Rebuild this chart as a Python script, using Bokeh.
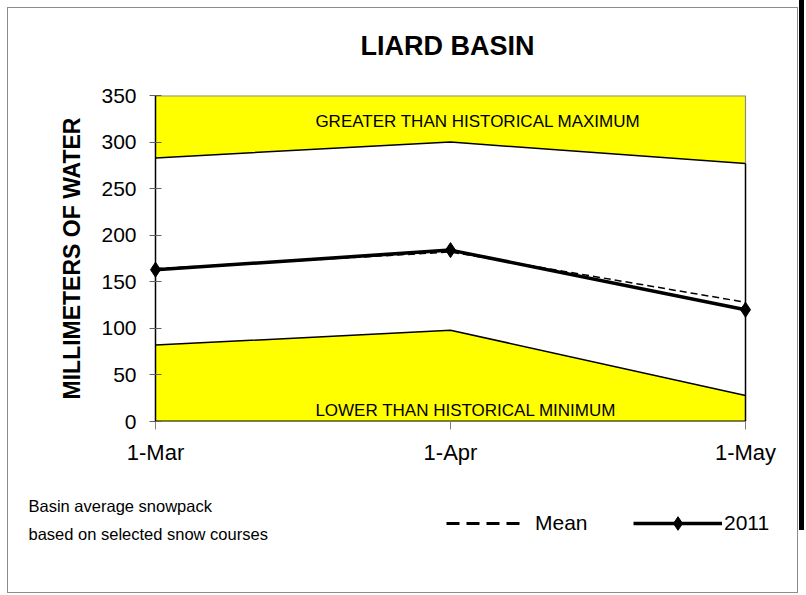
import math
from bokeh.plotting import figure
from bokeh.models import Range1d, FixedTicker, Label, Legend, LegendItem, Div
from bokeh.layouts import column, row
from bokeh.embed import file_html
from bokeh.resources import INLINE

# ---- data ----
dates = ["1-Mar", "1-Apr", "1-May"]
hist_max = [283, 300, 277]
hist_min = [82, 98, 28]
mean_vals = [164, 182, 128]
snow_2011 = [163, 184, 120]
y_ticks = [0, 50, 100, 150, 200, 250, 300, 350]
y_bottom = 0
y_top = 350

FONT = "Liberation Sans"
x = list(range(len(dates)))
top_line = [y_top] * len(x)
bottom_line = [y_bottom] * len(x)
nan_vals = [math.nan] * len(x)

W = 789
H0 = 73    # title strip
H1 = 397   # chart
H2 = 114   # notes + legend strip
PAD = 10 / 295.0  # a little room so the end markers are not clipped


def strip(height):
    f = figure(width=W, height=height, output_backend="svg", toolbar_location=None,
               x_axis_location=None, y_axis_location=None, min_border=0,
               x_range=Range1d(0, W), y_range=Range1d(height, 0))
    f.frame_align = False
    f.grid.visible = False
    f.outline_line_color = None
    return f

# ---- title strip ----
p0 = strip(H0)
p0.add_layout(Label(x=439, y=37, text="LIARD BASIN", text_font=FONT,
                    text_font_size="27px", text_font_style="bold",
                    text_align="center", text_baseline="middle",
                    text_color="black"))

# ---- chart ----
p = figure(width=W, height=H1, output_backend="svg", toolbar_location=None,
           x_range=Range1d(x[0] - PAD, x[-1] + PAD), y_range=Range1d(y_bottom, y_top),
           min_border_left=137, min_border_right=42, min_border_top=14,
           min_border_bottom=57)
p.frame_align = False
p.xgrid.visible = False
p.ygrid.visible = False
p.outline_line_color = None

# yellow zones
p.varea(x=x, y1=hist_max, y2=top_line, fill_color="#FFFF00")
p.varea(x=x, y1=bottom_line, y2=hist_min, fill_color="#FFFF00")
# plot-area edges
p.segment(x0=[x[0]], y0=[y_top], x1=[x[-1]], y1=[y_top], color="#8c8c8c", line_width=2)
p.segment(x0=[x[-1]], y0=[hist_max[-1]], x1=[x[-1]], y1=[y_top], color="#8c8c8c", line_width=1.2)
p.segment(x0=[x[-1]], y0=[y_bottom], x1=[x[-1]], y1=[hist_max[-1]], color="black", line_width=1.5)
p.segment(x0=[x[0]], y0=[y_bottom], x1=[x[-1]], y1=[y_bottom], color="black", line_width=2)
p.segment(x0=[x[0]], y0=[y_bottom], x1=[x[0]], y1=[y_top], color="black", line_width=1.5)
p.line(x, hist_max, color="black", line_width=1.5)
p.line(x, hist_min, color="black", line_width=1.5)

# series
p.line(x, mean_vals, color="black", line_width=1.5, line_dash="7 4")
p.line(x, snow_2011, color="black", line_width=3.5)
p.scatter(x, snow_2011, marker="diamond", size=15, color="black")

# axes
p.xaxis.ticker = FixedTicker(ticks=x)
p.xaxis.major_label_overrides = {i: d for i, d in enumerate(dates)}
p.xaxis.major_tick_in = 0
p.xaxis.major_tick_out = 8
p.xaxis.minor_tick_line_color = None
p.xaxis.major_tick_line_color = "#808080"
p.xaxis.axis_line_color = None
p.xaxis.major_label_standoff = 10
p.xaxis.major_label_text_font = FONT
p.xaxis.major_label_text_font_size = "22px"
p.xaxis.major_label_text_color = "black"

p.yaxis.ticker = FixedTicker(ticks=y_ticks)
p.yaxis.major_tick_in = 16
p.yaxis.major_tick_out = -4
p.yaxis.minor_tick_line_color = None
p.yaxis.major_tick_line_color = "#606060"
p.yaxis.axis_line_color = None
p.yaxis.major_label_standoff = 9
p.yaxis.major_label_text_font = FONT
p.yaxis.major_label_text_font_size = "21px"
p.yaxis.major_label_text_color = "black"
p.yaxis.axis_label = "MILLIMETERS OF WATER"
p.yaxis.axis_label_text_font = FONT
p.yaxis.axis_label_text_font_size = "23px"
p.yaxis.axis_label_text_font_style = "bold"
p.yaxis.axis_label_text_color = "black"
p.yaxis.axis_label_standoff = 13

# zone labels
for txt, yv in [("GREATER THAN HISTORICAL MAXIMUM", 322),
                ("LOWER THAN HISTORICAL MINIMUM", 12)]:
    p.add_layout(Label(x=0.542, y=yv, text=txt, text_font=FONT,
                       text_font_size="17px", text_baseline="middle",
                       text_color="black"))

# ---- lower strip: notes and legend ----
p2 = strip(H2)

for txt, yv in [("Basin average snowpack", 27),
                ("based on selected snow courses", 55)]:
    p2.add_layout(Label(x=20, y=yv, text=txt, text_font=FONT,
                        text_font_size="16.5px", text_baseline="middle",
                        text_color="black"))

r_mean = p2.line(x, nan_vals, color="black", line_width=3, line_dash="13 7")
r_11l = p2.line(x, nan_vals, color="black", line_width=3.5)
r_11m = p2.scatter(x, nan_vals, marker="diamond", size=15, color="black")

def make_legend(label, rends, loc, gw, standoff):
    lg = Legend(items=[LegendItem(label=label, renderers=rends)], location=loc,
                orientation="horizontal", glyph_width=gw, glyph_height=34,
                label_standoff=standoff, padding=0, margin=0,
                border_line_alpha=0, background_fill_alpha=0,
                label_text_font=FONT, label_text_font_size="21px",
                label_text_color="black")
    p2.add_layout(lg, "center")

make_legend("Mean", [r_mean], (438, 52), 79, 10)
make_legend("2011", [r_11l, r_11m], (625, 52), 89, 2)

chart = column(p0, p, p2, styles={"border": "1px solid #8c8c8c"}, margin=(7, 0, 0, 7))
bar = Div(width=5, height=530, styles={"background-color": "black"}, margin=(0, 0, 0, 1))
layout = row(chart, bar)

open("out.html", "w").write(file_html(layout, INLINE))
